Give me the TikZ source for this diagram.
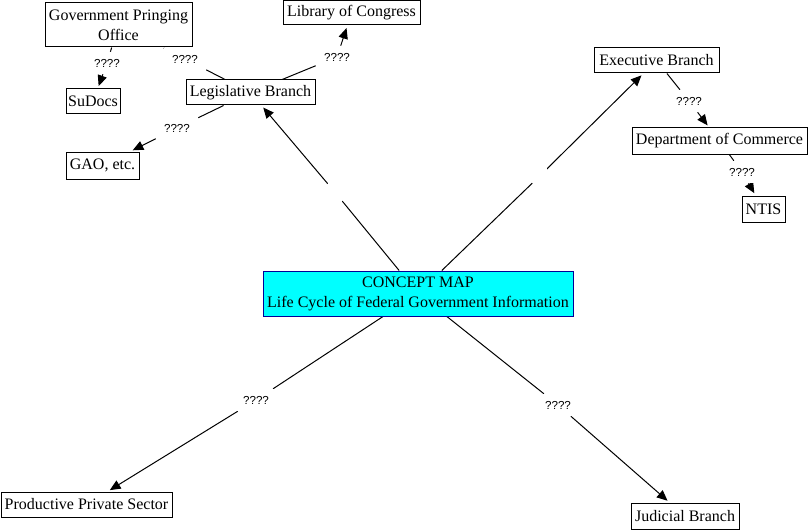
\documentclass[tikz,border=0pt]{standalone}
\usepackage{fontspec}
\setmainfont{Liberation Serif}
\newfontfamily\lblfont{Liberation Sans}
\usetikzlibrary{arrows.meta}
\pgfdeclarelayer{edges}
\pgfsetlayers{edges,main}
\definecolor{mapcyan}{RGB}{0,255,255}
\definecolor{mapnavy}{RGB}{0,0,150}
\begin{document}
\begin{tikzpicture}[x=0.75pt,y=-0.75pt,
  concept/.style={draw=black,fill=white,line width=0.75pt,inner sep=0pt,align=center,font=\fontsize{12}{15}\selectfont},
  centerbox/.style={concept,fill=mapcyan,draw=mapnavy},
  linkph/.style={fill=white,inner sep=0pt,minimum width=31.5pt,minimum height=16.5pt,font=\lblfont\fontsize{8.7}{10}\selectfont},
  blank/.style={fill=white,inner sep=0pt,minimum width=10.5pt,minimum height=15pt},
  conn/.style={line width=0.75pt,black},
  arr/.style={conn,-{Triangle[length=8pt,width=7pt]},shorten >=2pt}]
\useasboundingbox (0,0) rectangle (809,531);
% concepts
\node[concept,minimum width=110.25pt,minimum height=33pt] (gpo) at (118.5,25) {Government Pringing\\Office};
\node[concept,minimum width=102.75pt,minimum height=18pt] (loc) at (351.5,13) {Library of Congress};
\node[concept,minimum width=40.5pt,minimum height=18.75pt] (sudocs) at (93,101.5) {SuDocs};
\node[concept,minimum width=96.75pt,minimum height=18.75pt] (leg) at (250.5,92.5) {Legislative Branch};
\node[concept,minimum width=54.75pt,minimum height=20.25pt] (gao) at (102.5,165.5) {GAO, etc.};
\node[concept,minimum width=93.75pt,minimum height=18.75pt] (exec) at (656.5,60.5) {Executive Branch};
\node[concept,minimum width=131.25pt,minimum height=19.5pt] (dept) at (719.5,141) {Department of Commerce};
\node[concept,minimum width=32.25pt,minimum height=19.5pt] (ntis) at (763.5,209) {NTIS};
\node[centerbox,minimum width=232.5pt,minimum height=33.75pt] (center) at (418,293.5) {CONCEPT MAP\\Life Cycle of Federal Government Information};
\node[concept,minimum width=128.25pt,minimum height=18.75pt] (pps) at (86.5,504.5) {Productive Private Sector};
\node[concept,minimum width=81pt,minimum height=19.5pt] (jud) at (685,516) {Judicial Branch};
% linking phrases
\node[linkph] (lgpo) at (185,59) {????};
\node[linkph] (lloc) at (337,57) {????};
\node[linkph] (lsud) at (107,63) {????};
\node[linkph] (lgao) at (177,128) {????};
\node[linkph] (lexe) at (689,101) {????};
\node[linkph] (ldept) at (742,172) {????};
\node[linkph] (lpps) at (256,400) {????};
\node[linkph] (ljud) at (558,405) {????};
\node[blank] (e1) at (335,192.3) {};
\node[blank] (e2) at (539.5,176.2) {};
% connectors
\begin{pgfonlayer}{edges}
\draw[conn] (leg) -- (lgpo);   \draw[arr] (lgpo) -- (gpo);
\draw[conn] (leg) -- (lloc);   \draw[arr] (lloc) -- (loc);
\draw[conn] (gpo) -- (lsud);   \draw[arr] (lsud) -- (sudocs);
\draw[conn] (leg) -- (lgao);   \draw[arr] (lgao) -- (gao);
\draw[conn] (center) -- (e1);  \draw[arr] (e1) -- (leg);
\draw[conn] (center) -- (e2);  \draw[arr] (e2) -- (exec);
\draw[conn] (exec) -- (lexe);  \draw[arr] (lexe) -- (dept);
\draw[conn] (dept) -- (ldept); \draw[arr] (ldept) -- (ntis);
\draw[conn] (center) -- (lpps); \draw[arr] (lpps) -- (pps);
\draw[conn] (center) -- (ljud); \draw[arr] (ljud) -- (jud);
\end{pgfonlayer}
\end{tikzpicture}
\end{document}
